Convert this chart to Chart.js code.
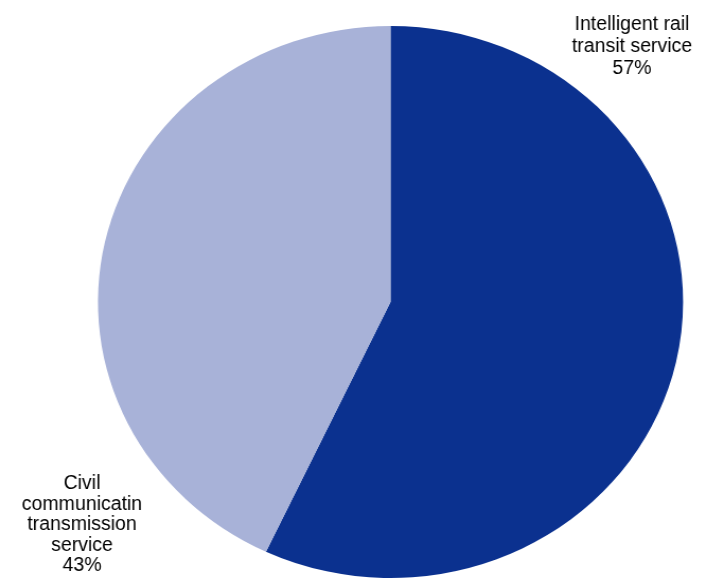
<!DOCTYPE html>
<html>
<head>
<meta charset="utf-8">
<script src="https://cdn.jsdelivr.net/npm/chart.js@4/dist/chart.umd.min.js"></script>
<style>
  html, body { margin: 0; padding: 0; background: #fff; overflow: hidden; }
  /* the reference pie is slightly wider than tall, so stretch the canvas horizontally */
  #wrap { position: absolute; left: 0; top: 0; width: 673px; height: 581px;
          transform: scaleX(1.06); transform-origin: 0 0; }
</style>
</head>
<body>
<div id="wrap"><canvas id="pieChart"></canvas></div>
<script>
// data
const categories = [
  ['Intelligent rail', 'transit service'],
  ['Civil', 'communicatin', 'transmission', 'service']
];
const shares = [57, 43];
const sliceColors = ['#0B318F', '#A8B2D8'];

const stretchX = 1.06;

// slice labels, drawn unstretched at fixed spots outside the pie
const labelPositions = [
  { x: 632, y: 30, step: 22 },   // first baseline, page coords
  { x: 82, y: 489, step: 20.6 }
];
const labelPlugin = {
  id: 'sliceLabels',
  afterDraw(chart) {
    const c = chart.ctx;
    c.save();
    c.scale(1 / stretchX, 1);
    c.font = '19.5px "Liberation Sans", Arial, sans-serif';
    c.fillStyle = '#000';
    c.textAlign = 'center';
    c.textBaseline = 'alphabetic';
    chart.data.labels.forEach((lbl, i) => {
      const lines = lbl.concat([shares[i] + '%']);
      const p = labelPositions[i];
      lines.forEach((ln, j) => c.fillText(ln, p.x, p.y + j * p.step));
    });
    c.restore();
  }
};

const pieCtx = document.getElementById('pieChart').getContext('2d');
const pieChart = new Chart(pieCtx, {
  type: 'pie',
  data: {
    labels: categories,
    datasets: [{
      data: shares,
      backgroundColor: sliceColors,
      borderWidth: 0
    }]
  },
  options: {
    responsive: true,
    maintainAspectRatio: false,
    animation: false,
    layout: { padding: { left: 92.4, right: 28.6, top: 26, bottom: 3 } },
    plugins: {
      legend: { display: false },
      tooltip: { enabled: false }
    }
  },
  plugins: [labelPlugin]
});
</script>
</body>
</html>
